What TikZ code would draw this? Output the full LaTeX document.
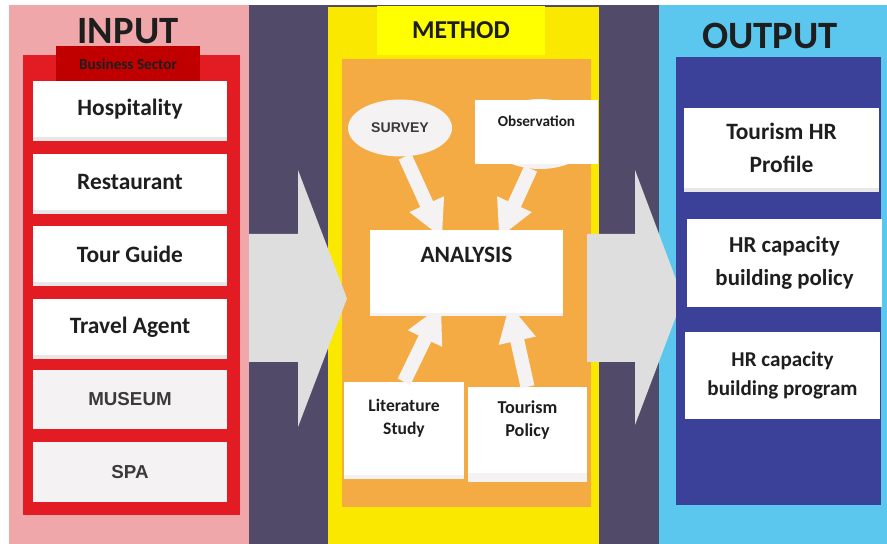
\documentclass[tikz,border=0pt]{standalone}
\usepackage{fontspec}
\setmainfont{Carlito}
\newfontfamily\arialfont{Liberation Sans}
\usetikzlibrary{arrows.meta,shadows,shapes.geometric}
\pgfdeclarelayer{front}
\pgfsetlayers{main,front}

\definecolor{pinkbg}{HTML}{F0A7AA}
\definecolor{slate}{HTML}{514B69}
\definecolor{yellowbg}{HTML}{FAE800}
\definecolor{brightyellow}{HTML}{FFFF00}
\definecolor{orangebg}{HTML}{F4AB43}
\definecolor{cyanbg}{HTML}{5BC6EE}
\definecolor{bluebox}{HTML}{3B4199}
\definecolor{redbox}{HTML}{E31C24}
\definecolor{darkred}{HTML}{C00000}
\definecolor{offwhite}{HTML}{F4F2F2}
\definecolor{arrowgrey}{HTML}{DEDEDE}
\definecolor{cardgrey}{HTML}{E8E6E6}
\definecolor{greytext}{HTML}{3A3A3A}
\definecolor{titleblack}{HTML}{1E1E1E}

\begin{document}
\begin{tikzpicture}[x=0.03cm, y=-0.03cm, node distance=2.178cm,
  boxsize/.style 2 args={minimum width=#1*0.03cm, minimum height=#2*0.03cm},
  title node/.style={font=\bfseries\fontsize{33}{40}\selectfont, text=titleblack},
  card node/.style={rectangle, fill=white, inner sep=0pt, align=center, text=titleblack, font=\bfseries\fontsize{20}{28}\selectfont},
  card shadow/.style={general shadow={fill=cardgrey, shadow yshift=-3.6pt}},
  grey node/.style={rectangle, fill=offwhite, inner sep=0pt, text=greytext, font=\arialfont\bfseries\fontsize{16}{19}\selectfont},
  feed/.style={draw=offwhite, line width=12pt, -{Triangle[width=30pt,length=32pt]}, shorten >=-8pt}]

% page and the three columns
\fill[white] (0,0) rectangle (887,544);
\fill[slate] (249,5) rectangle (659,544);
\fill[pinkbg] (9,5) rectangle (249,544);
\fill[yellowbg] (328,7) rectangle (599,544);
\fill[cyanbg] (659,5) rectangle (887,544);

% input column
\node[title node] (input) at (128,31) {INPUT};
\fill[redbox] (23,55) rectangle (240,515);
\node[fill=darkred, boxsize={144}{37}, inner sep=0pt, text=titleblack, font=\bfseries\fontsize{13}{16}\selectfont] (sector) at (128,64.5) {Business Sector};
\node[card node, card shadow, boxsize={194}{56}] (hosp) at (130,109) {Hospitality}; % first card, the others hang below it
\node[card node, card shadow, boxsize={194}{56}] (rest) [below of=hosp] {Restaurant};
\node[card node, card shadow, boxsize={194}{56}] (guide) [below of=rest] {Tour Guide};
\node[card node, card shadow, boxsize={194}{56}] (agent) [below of=guide] {Travel Agent};
\node[grey node, boxsize={194}{59}] (museum) [below of=agent] {MUSEUM};
\node[grey node, boxsize={194}{60}] (spa) [below of=museum] {SPA};

% method column
\node[fill=brightyellow, boxsize={168}{49}, inner sep=0pt, text=titleblack, font=\bfseries\fontsize{22}{26}\selectfont] (method) at (461,30.5) {METHOD};
\fill[orangebg] (342,59) rectangle (591,507);
\node[ellipse, fill=offwhite, boxsize={104}{57}, inner sep=0pt, text=greytext, font=\arialfont\bfseries\fontsize{12}{14}\selectfont] (survey) at (400,128) {SURVEY};
\node[ellipse, fill=offwhite, boxsize={110}{70}] (bubble) at (540,134) {};
\node[card node, boxsize={123}{64}, font=\bfseries\fontsize{13}{18}\selectfont] (obs) at (536.5,132) {Observation\\\mbox{}};
\node[card node, boxsize={120}{93}, general shadow={fill=offwhite, shadow yshift=-3.4pt}, font=\bfseries\fontsize{15}{19.5}\selectfont] (lit) at (404,428.5) {Literature\\Study\\\mbox{}};
\node[card node, boxsize={119}{86}, general shadow={fill=offwhite, shadow yshift=-7.7pt}, font=\bfseries\fontsize{15.5}{19.5}\selectfont] (policy) at (527.5,430) {Tourism\\Policy\\\mbox{}};
\begin{pgfonlayer}{front}
\node[card node, boxsize={193}{83}, general shadow={fill=offwhite, shadow yshift=-2.6pt}] (analysis) at (466.5,271.5) {ANALYSIS\\\mbox{}}; % sits over the arrow tips
\end{pgfonlayer}

\path
(survey.-80) edge[feed] (analysis.124)
(bubble.-105) edge[feed] (analysis.49)
(lit.north) edge[feed] (analysis.235)
(policy.north) edge[feed] (analysis.317);

% big grey arrows between the columns
\fill[arrowgrey] (249,234) -- (298,234) -- (298,170) -- (347,298.5) -- (298,427) -- (298,362) -- (249,362) -- cycle;
\fill[arrowgrey] (587,234) -- (635,234) -- (635,170) -- (683,298) -- (635,425) -- (635,362) -- (587,362) -- cycle;

% output column
\node[title node] (output) at (770,36) {OUTPUT};
\fill[bluebox] (676,57) rectangle (881,505);
\node[card node, card shadow, boxsize={195}{80}] (profile) at (781.5,148) {Tourism HR\\Profile};
\node[card node, boxsize={195}{88}, font=\bfseries\fontsize{19.5}{28}\selectfont] (capacity) at (784.5,263) {HR capacity\\building policy};
\node[card node, boxsize={195}{87}, font=\bfseries\fontsize{18}{24.5}\selectfont] (program) at (782.5,375.5) {HR capacity\\building program};
\end{tikzpicture}
\end{document}
